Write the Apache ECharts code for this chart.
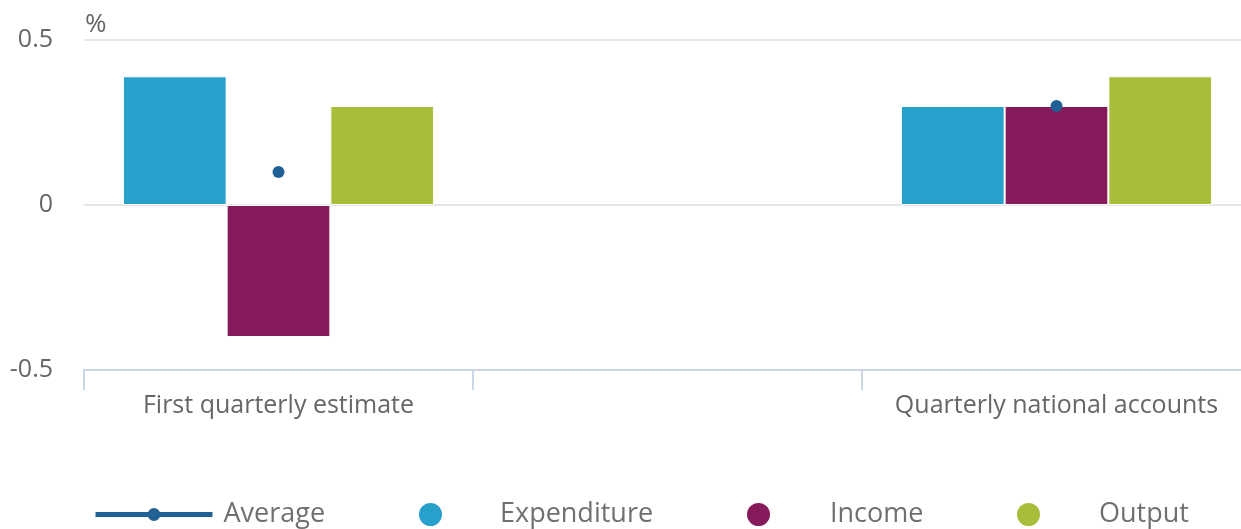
<!DOCTYPE html>
<html><head><meta charset="utf-8">
<script src="https://cdn.jsdelivr.net/npm/echarts@6/dist/echarts.min.js"></script>
<style>html,body{margin:0;padding:0;background:#fff}#c{width:1241px;height:529px}</style>
</head><body><div id="c"></div>
<script>
const categories = ['First quarterly estimate', '', 'Quarterly national accounts'];
const expenditure = [0.39, '-', 0.3];
const income = [-0.4, '-', 0.3];
const output = [0.3, '-', 0.39];
const average = [0.1, '-', 0.3];
const yTicks = {min: -0.5, max: 0.5, interval: 0.5};

const font = '"Open Sans", "Noto Sans", sans-serif';
const chart = echarts.init(document.getElementById('c'));
const legendBase = {
  orient: 'horizontal', top: 501, itemGap: 0, padding: 0,
  textStyle: {fontFamily: font, fontSize: 27, color: '#707070'}
};
chart.setOption({
  animation: false,
  grid: {left: 84, width: 1167, top: 40, bottom: 159, containLabel: false, outerBoundsMode: 'none'},
  xAxis: {
    type: 'category', data: categories,
    axisLine: {onZero: false, lineStyle: {color: '#ccd6eb', width: 2}},
    axisTick: {show: true, length: 20, interval: 0, lineStyle: {color: '#ccd6eb', width: 2}},
    axisLabel: {interval: 0, margin: 23, fontFamily: font, fontSize: 25, color: '#666666'}
  },
  yAxis: {
    type: 'value', min: yTicks.min, max: yTicks.max, interval: yTicks.interval,
    name: '%', nameLocation: 'end', nameGap: 2,
    nameTextStyle: {fontFamily: font, fontSize: 26, color: '#666666', align: 'left', padding: [0, 0, 0, 1]},
    axisLine: {show: false}, axisTick: {show: false},
    axisLabel: {margin: 31, fontFamily: font, fontSize: 25, color: '#666666'},
    splitLine: {lineStyle: {color: '#e6e6e6', width: 2}}
  },
  legend: [
    Object.assign({}, legendBase, {left: 93, data: ['Average'], itemWidth: 117, itemHeight: 16,
      lineStyle: {width: 5},
      textStyle: Object.assign({}, legendBase.textStyle, {padding: [0, 0, 0, 6]})}),
    Object.assign({}, legendBase, {left: 417, data: ['Expenditure'], icon: 'circle', itemWidth: 25, itemHeight: 25,
      textStyle: Object.assign({}, legendBase.textStyle, {padding: [0, 0, 0, 52]})}),
    Object.assign({}, legendBase, {left: 745, data: ['Income'], icon: 'circle', itemWidth: 25, itemHeight: 25,
      textStyle: Object.assign({}, legendBase.textStyle, {padding: [0, 0, 0, 54]})}),
    Object.assign({}, legendBase, {left: 1015, data: ['Output'], icon: 'circle', itemWidth: 25, itemHeight: 25,
      textStyle: Object.assign({}, legendBase.textStyle, {padding: [0, 0, 0, 53]})})
  ],
  series: [
    {name: 'Expenditure', type: 'bar', data: expenditure, barGap: '0%', barCategoryGap: '20%',
      itemStyle: {color: '#27a0cc', borderColor: '#ffffff', borderWidth: 1}},
    {name: 'Income', type: 'bar', data: income,
      itemStyle: {color: '#871a5b', borderColor: '#ffffff', borderWidth: 1}},
    {name: 'Output', type: 'bar', data: output,
      itemStyle: {color: '#a8bd3a', borderColor: '#ffffff', borderWidth: 1}},
    {name: 'Average', type: 'line', data: average, symbol: 'circle', symbolSize: 12, z: 5,
      connectNulls: false,
      lineStyle: {color: '#206095', width: 5}, itemStyle: {color: '#206095'}}
  ]
});
</script></body></html>
